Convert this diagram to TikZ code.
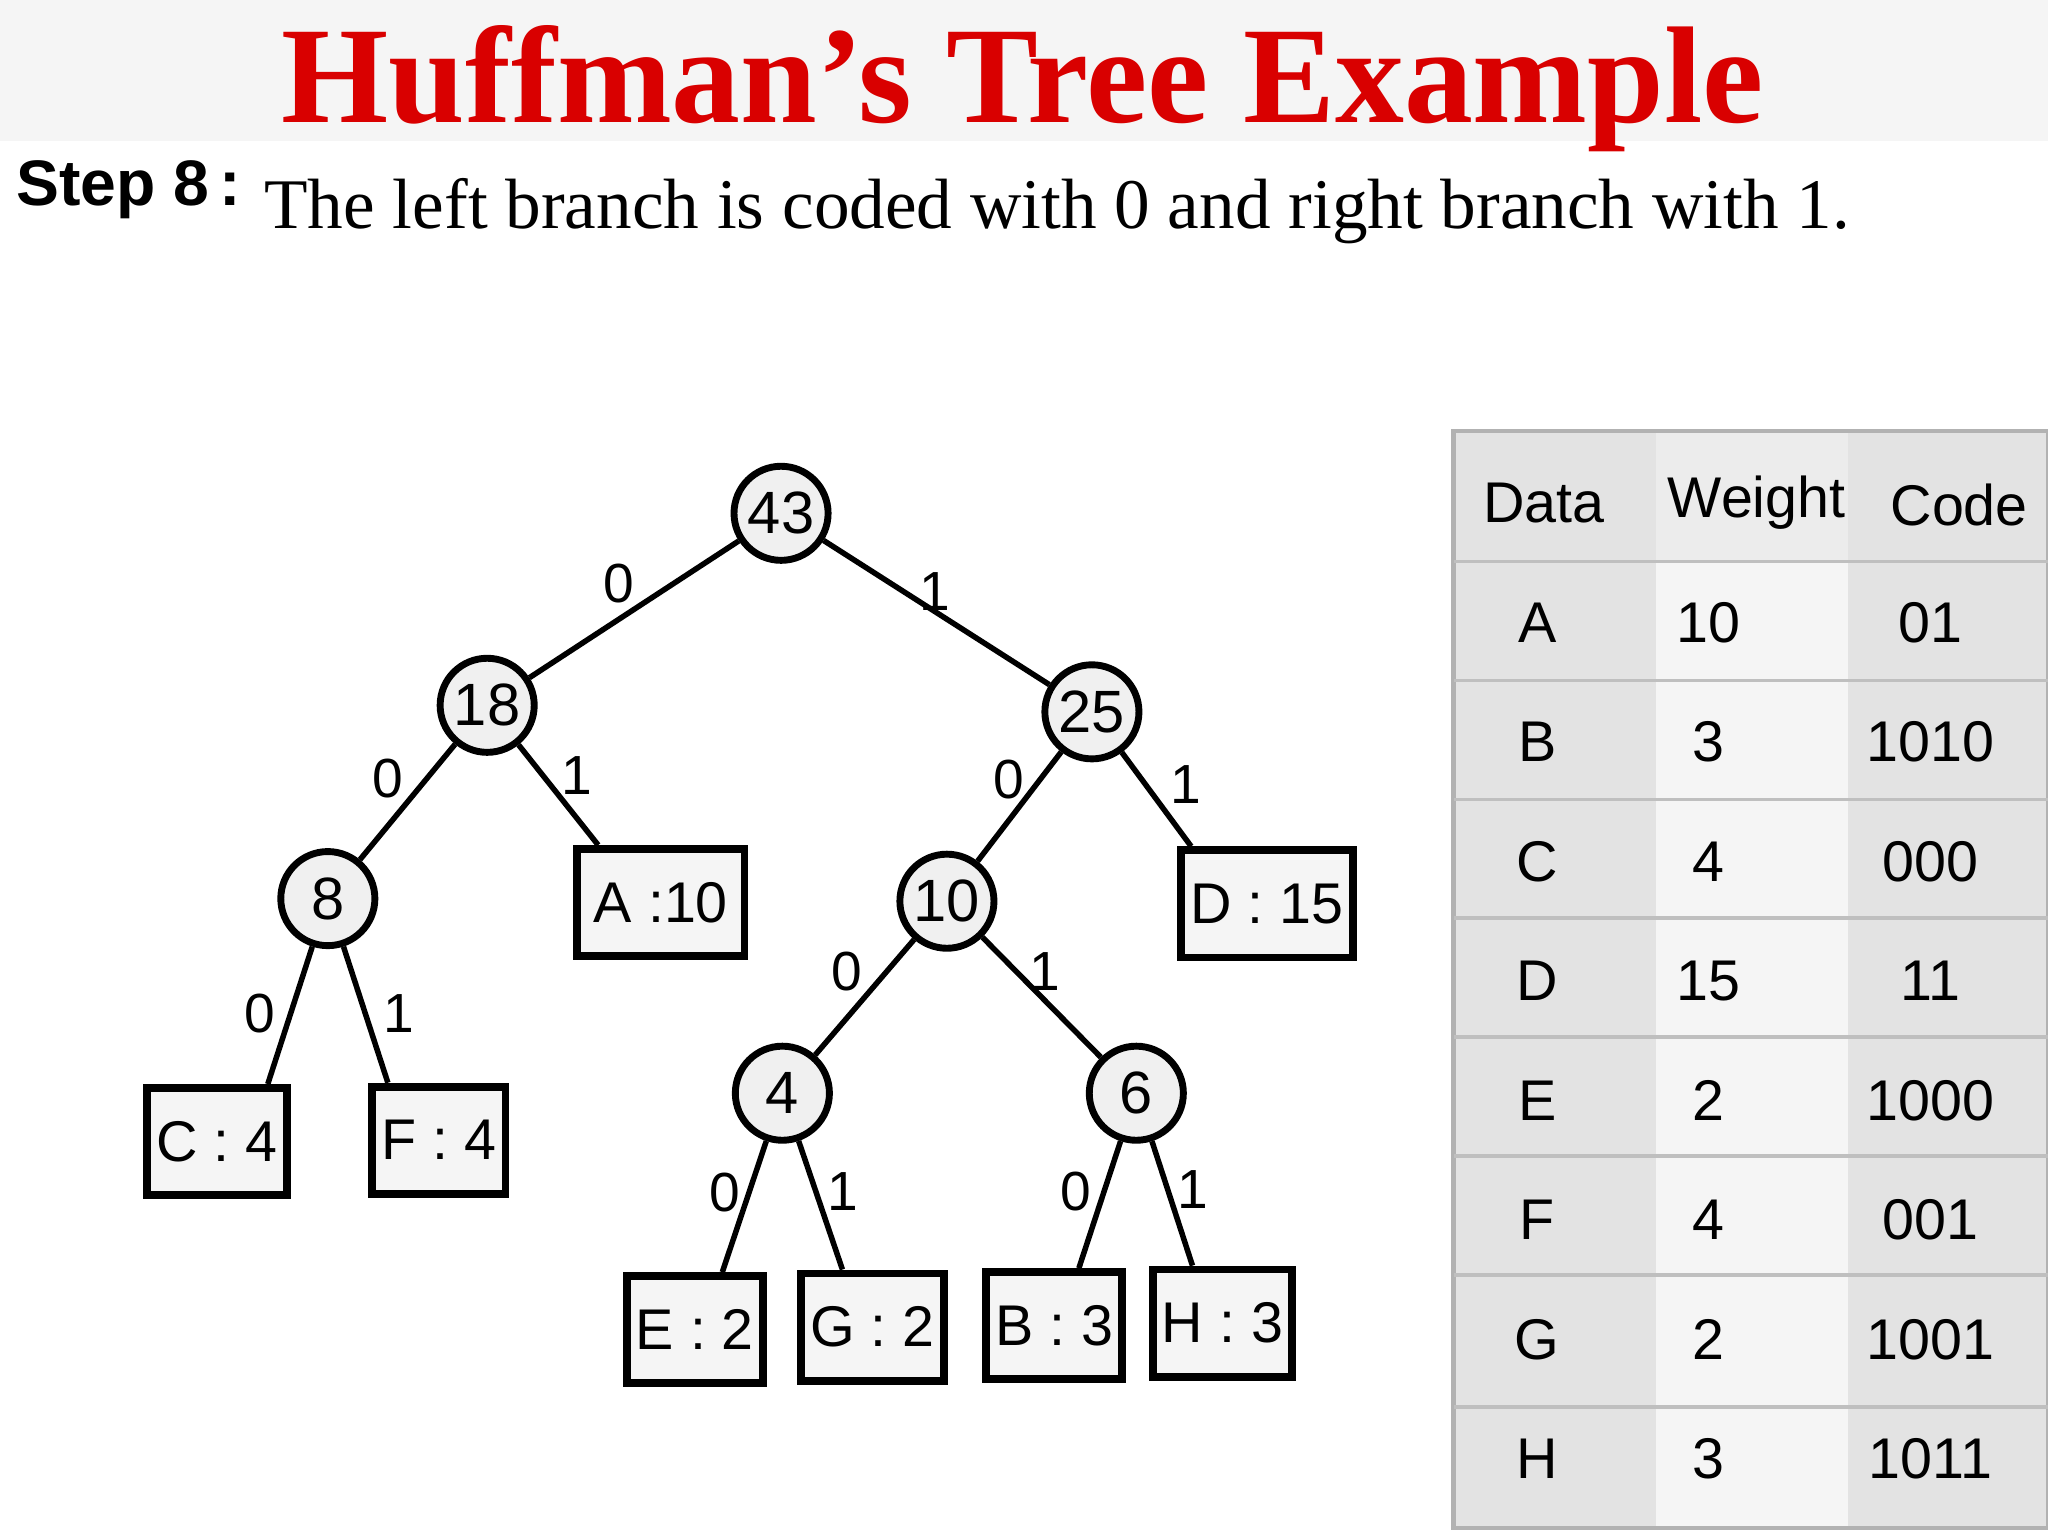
\documentclass[tikz,border=0pt]{standalone}
\usepackage{fontspec}
\setmainfont{Liberation Serif}
\newfontfamily\sansf{Liberation Sans}
\begin{document}
\begin{tikzpicture}[x=0.01cm,y=-0.01cm,
  cnode/.style={circle,draw,line width=1.5pt,fill=gray!12,minimum size=0.72cm,inner sep=0pt,font=\sansf\fontsize{13}{13}\selectfont},
  leaf/.style={draw,line width=1.7pt,fill=gray!8,minimum height=0.82cm,inner sep=2pt,font=\sansf\fontsize{12.5}{12.5}\selectfont},
  edge/.style={line width=1.2pt},
  lbl/.style={font=\sansf\fontsize{12}{12}\selectfont},
  cell/.style={font=\sansf\fontsize{12.5}{12.5}\selectfont}]
\useasboundingbox (0,0) rectangle (1568,1176);
\fill[white] (0,0) rectangle (1568,1176);
\fill[gray!8] (0,0) rectangle (1568,108);
\node[font=\bfseries\fontsize{30}{30}\selectfont,text=red!85!black] (title) at (783,68) {Huffman’s Tree Example};
\node[anchor=west,font=\sansf\bfseries\fontsize{14}{14}\selectfont] (step) at (0,145) {Step 8\,:};
\node[anchor=west,font=\fontsize{15.5}{15.5}\selectfont] (stxt) at (190,162) {The left branch is coded with 0 and right branch with 1.};
% tree
\node[cnode] (n43) at (598,393) {43};
\node[cnode] (n18) at (373,540) {18};
\node[cnode] (n25) at (836,545) {25};
\node[cnode] (n8) at (251,688) {8};
\node[cnode] (n10) at (725,690) {10};
\node[cnode] (n4) at (599,837) {4};
\node[cnode] (n6) at (870,837) {6};
\node[leaf,minimum width=1.28cm] (A) at (506,691) {A :10};
\node[leaf,minimum width=1.22cm] (D) at (970,692) {D : 15};
\node[leaf,minimum width=0.94cm] (C) at (166,874) {C : 4};
\node[leaf,minimum width=0.94cm] (F) at (336,873) {F : 4};
\node[leaf,minimum width=0.9cm] (E) at (532,1018) {E : 2};
\node[leaf,minimum width=0.9cm] (G) at (668,1016) {G : 2};
\node[leaf,minimum width=0.9cm] (B) at (807,1015) {B : 3};
\node[leaf,minimum width=0.9cm] (H) at (936,1013) {H : 3};
\draw[edge] (n43)--(n18); \draw[edge] (n43)--(n25);
\draw[edge] (n18)--(n8); \draw[edge] (n18)--([xshift=-0.48cm]A.north);
\draw[edge] (n25)--(n10); \draw[edge] (n25)--([xshift=-0.58cm]D.north);
\draw[edge] (n8)--([xshift=0.39cm]C.north); \draw[edge] (n8)--([xshift=-0.39cm]F.north);
\draw[edge] (n10)--(n4); \draw[edge] (n10)--(n6);
\draw[edge] (n4)--([xshift=0.21cm]E.north); \draw[edge] (n4)--([xshift=-0.23cm]G.north);
\draw[edge] (n6)--([xshift=0.19cm]B.north); \draw[edge] (n6)--([xshift=-0.23cm]H.north);
\node[lbl] at (474,447) {0}; \node[lbl] at (716,453) {1};
\node[lbl] at (297,596) {0}; \node[lbl] at (442,594) {1};
\node[lbl] at (772,597) {0}; \node[lbl] at (908,601) {1};
\node[lbl] at (199,776) {0}; \node[lbl] at (305,776) {1};
\node[lbl] at (648,744) {0}; \node[lbl] at (800,744) {1};
\node[lbl] at (555,913) {0}; \node[lbl] at (645,912) {1};
\node[lbl] at (824,912) {0}; \node[lbl] at (913,911) {1};
% table
\fill[gray!22] (1113,330) rectangle (1568,1170);
\fill[gray!8] (1268,430) rectangle (1415,1170);
\fill[gray!15] (1268,330) rectangle (1415,430);
\draw[gray!60,line width=1pt] (1113,330) rectangle (1568,1170);
\foreach \y in {430,521,612,703,794,885,976,1077} \draw[gray!50,line width=0.8pt] (1113,\y)--(1568,\y);
\node[cell] (h1) at (1182,385) {Data};
\node[cell] (h2) at (1345,385) {Weight};
\node[cell] (h3) at (1500,387) {Code};
\foreach \d/\w/\c [count=\i] in {A/10/01,B/3/1010,C/4/000,D/15/11,E/2/1000,F/4/001,G/2/1001,H/3/1011}{
  \node[cell] (d\i) at (1177,385+91.5*\i) {\d};
  \node[cell] (w\i) at (1308,385+91.5*\i) {\w};
  \node[cell] (c\i) at (1478,385+91.5*\i) {\c};
}
\end{tikzpicture}
\end{document}
